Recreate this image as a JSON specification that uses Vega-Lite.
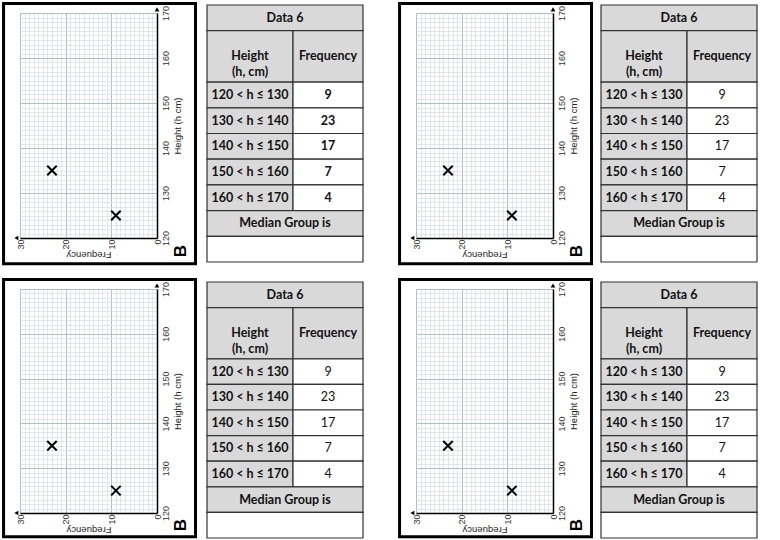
{
  "$schema": "https://vega.github.io/schema/vega-lite/v6.json",
  "padding": {"left": 2, "top": 2, "right": 0, "bottom": 0},
  "background": "white",
  "datasets": {
    "pts": [{"freq": 9, "height": 125}, {"freq": 23, "height": 135}],
    "tbl": [
      {"cell": "Data 6", "r0": 0, "r1": 1, "c0": 0, "c1": 2, "kind": "head"},
      {"cell": "Height\n(h, cm)", "r0": 1, "r1": 3, "c0": 0, "c1": 1, "kind": "head"},
      {"cell": "Frequency", "r0": 1, "r1": 3, "c0": 1, "c1": 2, "kind": "head"},
      {"cell": "120 < h ≤ 130", "r0": 3, "r1": 4, "c0": 0, "c1": 1, "kind": "head"},
      {"cell": "9", "r0": 3, "r1": 4, "c0": 1, "c1": 2, "kind": "body"},
      {"cell": "130 < h ≤ 140", "r0": 4, "r1": 5, "c0": 0, "c1": 1, "kind": "head"},
      {"cell": "23", "r0": 4, "r1": 5, "c0": 1, "c1": 2, "kind": "body"},
      {"cell": "140 < h ≤ 150", "r0": 5, "r1": 6, "c0": 0, "c1": 1, "kind": "head"},
      {"cell": "17", "r0": 5, "r1": 6, "c0": 1, "c1": 2, "kind": "body"},
      {"cell": "150 < h ≤ 160", "r0": 6, "r1": 7, "c0": 0, "c1": 1, "kind": "head"},
      {"cell": "7", "r0": 6, "r1": 7, "c0": 1, "c1": 2, "kind": "body"},
      {"cell": "160 < h ≤ 170", "r0": 7, "r1": 8, "c0": 0, "c1": 1, "kind": "head"},
      {"cell": "4", "r0": 7, "r1": 8, "c0": 1, "c1": 2, "kind": "body"},
      {"cell": "Median Group is", "r0": 8, "r1": 9, "c0": 0, "c1": 2, "kind": "head"},
      {"cell": "", "r0": 9, "r1": 10, "c0": 0, "c1": 2, "kind": "body"}
    ]
  },
  "config": {
    "view": {"stroke": null},
    "axis": {"labelFlush": false, "ticks": false, "labelFont": "Liberation Sans", "labelFontSize": 9, "labelColor": "#333", "titleFont": "Liberation Sans", "titleFontSize": 9.5, "titleFontWeight": "normal", "titleColor": "#222", "domainColor": "#000", "domainWidth": 1.5},
    "text": {"font": "Lato", "fontSize": 12.5, "color": "#111"}
  },
  "spacing": 12,
  "vconcat": [
    {"spacing": 34, "hconcat": [
      {"spacing": 9, "hconcat": [
        {"width": 137, "height": 225,
         "resolve": {"axis": {"x": "independent", "y": "independent"}},
         "layer": [
          {"data": {"name": "pts"}, "mark": {"type": "point", "opacity": 0},
           "encoding": {
            "x": {"field": "freq", "type": "quantitative", "scale": {"domain": [0, 30], "reverse": true, "nice": false, "zero": false}, "axis": {"orient": "bottom", "values": [0,1,2,3,4,5,6,7,8,9,10,11,12,13,14,15,16,17,18,19,20,21,22,23,24,25,26,27,28,29,30], "grid": true, "gridColor": "#d3dee1", "gridWidth": 0.7, "labels": false, "domain": false, "title": null}},
            "y": {"field": "height", "type": "quantitative", "scale": {"domain": [120, 170], "nice": false, "zero": false}, "axis": {"orient": "right", "values": [120,121,122,123,124,125,126,127,128,129,130,131,132,133,134,135,136,137,138,139,140,141,142,143,144,145,146,147,148,149,150,151,152,153,154,155,156,157,158,159,160,161,162,163,164,165,166,167,168,169,170], "grid": true, "gridColor": "#d3dee1", "gridWidth": 0.7, "labels": false, "domain": false, "title": null}}}},
          {"data": {"name": "pts"}, "mark": {"type": "point", "opacity": 0},
           "encoding": {
            "x": {"field": "freq", "type": "quantitative", "scale": {"domain": [0, 30], "reverse": true, "nice": false, "zero": false}, "axis": {"orient": "bottom", "values": [0, 10, 20, 30], "grid": true, "gridColor": "#a9bbc0", "gridWidth": 0.9, "labels": false, "domain": false, "title": null}},
            "y": {"field": "height", "type": "quantitative", "scale": {"domain": [120, 170], "nice": false, "zero": false}, "axis": {"orient": "right", "values": [120, 130, 140, 150, 160, 170], "grid": true, "gridColor": "#a9bbc0", "gridWidth": 0.9, "labels": false, "domain": false, "title": null}}}},
          {"data": {"values": [{}]}, "mark": {"type": "rect", "filled": false, "stroke": "#000", "strokeWidth": 3},
           "encoding": {
            "x": {"datum": 33.6, "type": "quantitative", "scale": {"domain": [0, 30], "reverse": true, "nice": false, "zero": false}, "axis": null},
            "x2": {"datum": -8.43},
            "y": {"datum": 172.1, "type": "quantitative", "scale": {"domain": [120, 170], "nice": false, "zero": false}, "axis": null},
            "y2": {"datum": 114.3}}},
          {"data": {"name": "pts"}, "mark": {"type": "point", "shape": "M-1,-1L1,1M-1,1L1,-1", "filled": false, "stroke": "#000", "strokeWidth": 2, "size": 90, "opacity": 1},
           "encoding": {
            "x": {"field": "freq", "type": "quantitative", "scale": {"domain": [0, 30], "reverse": true, "nice": false, "zero": false}, "axis": {"orient": "bottom", "values": [0, 10, 20, 30], "grid": false, "labelAngle": 270, "labelAlign": "right", "labelBaseline": "middle", "labelPadding": 1, "title": "Frequency", "titleAngle": 180, "titleBaseline": "bottom", "titlePadding": 0}},
            "y": {"field": "height", "type": "quantitative", "scale": {"domain": [120, 170], "nice": false, "zero": false}, "axis": {"orient": "right", "values": [120, 130, 140, 150, 160, 170], "grid": false, "labelAngle": 270, "labelAlign": "center", "labelBaseline": "top", "labelPadding": 4, "title": "Height (h cm)", "titleAngle": 270, "titleBaseline": "top", "titlePadding": 2}}}},
          {"data": {"values": [{}]}, "mark": {"type": "point", "shape": "triangle-up", "filled": true, "color": "#000", "size": 22, "opacity": 1},
           "encoding": {
            "x": {"datum": 0, "type": "quantitative", "scale": {"domain": [0, 30], "reverse": true, "nice": false, "zero": false}, "axis": null},
            "y": {"datum": 170.8, "type": "quantitative", "scale": {"domain": [120, 170], "nice": false, "zero": false}, "axis": null}}},
          {"data": {"values": [{}]}, "mark": {"type": "point", "shape": "triangle-left", "filled": true, "color": "#000", "size": 22, "opacity": 1},
           "encoding": {
            "x": {"datum": 30.8, "type": "quantitative", "scale": {"domain": [0, 30], "reverse": true, "nice": false, "zero": false}, "axis": null},
            "y": {"datum": 120, "type": "quantitative", "scale": {"domain": [120, 170], "nice": false, "zero": false}, "axis": null}}},
          {"data": {"values": [{}]}, "mark": {"type": "text", "text": "B", "angle": 270, "fontSize": 17, "fontWeight": "bold", "font": "Liberation Sans", "color": "#000", "align": "center", "baseline": "middle"},
           "encoding": {
            "x": {"datum": -5.3, "type": "quantitative", "scale": {"domain": [0, 30], "reverse": true, "nice": false, "zero": false}, "axis": null},
            "y": {"datum": 117.1, "type": "quantitative", "scale": {"domain": [120, 170], "nice": false, "zero": false}, "axis": null}}}
         ]},
        {"width": 156, "height": 249, "data": {"name": "tbl"},
         "encoding": {
          "x": {"field": "c0", "type": "quantitative", "scale": {"domain": [0, 1, 2], "range": [0, 86, 156]}, "axis": null},
          "y": {"field": "r0", "type": "quantitative", "scale": {"domain": [0.311, 10], "reverse": true, "nice": false, "zero": false}, "axis": null}},
         "layer": [
          {"mark": {"type": "rect", "stroke": "#333", "strokeWidth": 1.2, "clip": false},
           "encoding": {"x2": {"field": "c1"}, "y2": {"field": "r1"},
            "fill": {"field": "kind", "type": "nominal", "scale": {"domain": ["head", "body"], "range": ["#d9d9d9", "#ffffff"]}, "legend": null}}},
          {"transform": [{"filter": "datum.c1 - datum.c0 == 2"}], "mark": {"type": "text", "dx": 78, "dy": 12.85, "align": "center", "baseline": "middle", "fontWeight": "bold"}, "encoding": {"text": {"field": "cell"}}},
          {"transform": [{"filter": "datum.c0 == 0 && datum.c1 == 1 && datum.r1 - datum.r0 == 1"}], "mark": {"type": "text", "dx": 43, "dy": 12.85, "align": "center", "baseline": "middle", "fontWeight": "bold"}, "encoding": {"text": {"field": "cell"}}},
          {"transform": [{"filter": "datum.c0 == 0 && datum.r1 - datum.r0 == 2"}], "mark": {"type": "text", "dx": 43, "dy": 25.7, "align": "center", "baseline": "middle", "fontWeight": "bold", "lineBreak": "\n", "lineHeight": 16}, "encoding": {"text": {"field": "cell"}}},
          {"transform": [{"filter": "datum.c0 == 1 && datum.r1 - datum.r0 == 2"}], "mark": {"type": "text", "dx": 35, "dy": 25.7, "align": "center", "baseline": "middle", "fontWeight": "bold"}, "encoding": {"text": {"field": "cell"}}},
          {"transform": [{"filter": "datum.c0 == 1 && datum.r1 - datum.r0 == 1"}], "mark": {"type": "text", "dx": 35, "dy": 12.85, "align": "center", "baseline": "middle", "fontWeight": "bold"}, "encoding": {"text": {"field": "cell"}}}
         ]}
      ]},
      {"spacing": 7, "hconcat": [
        {"width": 137, "height": 225,
         "resolve": {"axis": {"x": "independent", "y": "independent"}},
         "layer": [
          {"data": {"name": "pts"}, "mark": {"type": "point", "opacity": 0},
           "encoding": {
            "x": {"field": "freq", "type": "quantitative", "scale": {"domain": [0, 30], "reverse": true, "nice": false, "zero": false}, "axis": {"orient": "bottom", "values": [0,1,2,3,4,5,6,7,8,9,10,11,12,13,14,15,16,17,18,19,20,21,22,23,24,25,26,27,28,29,30], "grid": true, "gridColor": "#d3dee1", "gridWidth": 0.7, "labels": false, "domain": false, "title": null}},
            "y": {"field": "height", "type": "quantitative", "scale": {"domain": [120, 170], "nice": false, "zero": false}, "axis": {"orient": "right", "values": [120,121,122,123,124,125,126,127,128,129,130,131,132,133,134,135,136,137,138,139,140,141,142,143,144,145,146,147,148,149,150,151,152,153,154,155,156,157,158,159,160,161,162,163,164,165,166,167,168,169,170], "grid": true, "gridColor": "#d3dee1", "gridWidth": 0.7, "labels": false, "domain": false, "title": null}}}},
          {"data": {"name": "pts"}, "mark": {"type": "point", "opacity": 0},
           "encoding": {
            "x": {"field": "freq", "type": "quantitative", "scale": {"domain": [0, 30], "reverse": true, "nice": false, "zero": false}, "axis": {"orient": "bottom", "values": [0, 10, 20, 30], "grid": true, "gridColor": "#a9bbc0", "gridWidth": 0.9, "labels": false, "domain": false, "title": null}},
            "y": {"field": "height", "type": "quantitative", "scale": {"domain": [120, 170], "nice": false, "zero": false}, "axis": {"orient": "right", "values": [120, 130, 140, 150, 160, 170], "grid": true, "gridColor": "#a9bbc0", "gridWidth": 0.9, "labels": false, "domain": false, "title": null}}}},
          {"data": {"values": [{}]}, "mark": {"type": "rect", "filled": false, "stroke": "#000", "strokeWidth": 3},
           "encoding": {
            "x": {"datum": 33.6, "type": "quantitative", "scale": {"domain": [0, 30], "reverse": true, "nice": false, "zero": false}, "axis": null},
            "x2": {"datum": -8.43},
            "y": {"datum": 172.1, "type": "quantitative", "scale": {"domain": [120, 170], "nice": false, "zero": false}, "axis": null},
            "y2": {"datum": 114.3}}},
          {"data": {"name": "pts"}, "mark": {"type": "point", "shape": "M-1,-1L1,1M-1,1L1,-1", "filled": false, "stroke": "#000", "strokeWidth": 2, "size": 90, "opacity": 1},
           "encoding": {
            "x": {"field": "freq", "type": "quantitative", "scale": {"domain": [0, 30], "reverse": true, "nice": false, "zero": false}, "axis": {"orient": "bottom", "values": [0, 10, 20, 30], "grid": false, "labelAngle": 270, "labelAlign": "right", "labelBaseline": "middle", "labelPadding": 1, "title": "Frequency", "titleAngle": 180, "titleBaseline": "bottom", "titlePadding": 0}},
            "y": {"field": "height", "type": "quantitative", "scale": {"domain": [120, 170], "nice": false, "zero": false}, "axis": {"orient": "right", "values": [120, 130, 140, 150, 160, 170], "grid": false, "labelAngle": 270, "labelAlign": "center", "labelBaseline": "top", "labelPadding": 4, "title": "Height (h cm)", "titleAngle": 270, "titleBaseline": "top", "titlePadding": 2}}}},
          {"data": {"values": [{}]}, "mark": {"type": "point", "shape": "triangle-up", "filled": true, "color": "#000", "size": 22, "opacity": 1},
           "encoding": {
            "x": {"datum": 0, "type": "quantitative", "scale": {"domain": [0, 30], "reverse": true, "nice": false, "zero": false}, "axis": null},
            "y": {"datum": 170.8, "type": "quantitative", "scale": {"domain": [120, 170], "nice": false, "zero": false}, "axis": null}}},
          {"data": {"values": [{}]}, "mark": {"type": "point", "shape": "triangle-left", "filled": true, "color": "#000", "size": 22, "opacity": 1},
           "encoding": {
            "x": {"datum": 30.8, "type": "quantitative", "scale": {"domain": [0, 30], "reverse": true, "nice": false, "zero": false}, "axis": null},
            "y": {"datum": 120, "type": "quantitative", "scale": {"domain": [120, 170], "nice": false, "zero": false}, "axis": null}}},
          {"data": {"values": [{}]}, "mark": {"type": "text", "text": "B", "angle": 270, "fontSize": 17, "fontWeight": "bold", "font": "Liberation Sans", "color": "#000", "align": "center", "baseline": "middle"},
           "encoding": {
            "x": {"datum": -5.3, "type": "quantitative", "scale": {"domain": [0, 30], "reverse": true, "nice": false, "zero": false}, "axis": null},
            "y": {"datum": 117.1, "type": "quantitative", "scale": {"domain": [120, 170], "nice": false, "zero": false}, "axis": null}}}
         ]},
        {"width": 156, "height": 249, "data": {"name": "tbl"},
         "encoding": {
          "x": {"field": "c0", "type": "quantitative", "scale": {"domain": [0, 1, 2], "range": [0, 86, 156]}, "axis": null},
          "y": {"field": "r0", "type": "quantitative", "scale": {"domain": [0.311, 10], "reverse": true, "nice": false, "zero": false}, "axis": null}},
         "layer": [
          {"mark": {"type": "rect", "stroke": "#333", "strokeWidth": 1.2, "clip": false},
           "encoding": {"x2": {"field": "c1"}, "y2": {"field": "r1"},
            "fill": {"field": "kind", "type": "nominal", "scale": {"domain": ["head", "body"], "range": ["#d9d9d9", "#ffffff"]}, "legend": null}}},
          {"transform": [{"filter": "datum.c1 - datum.c0 == 2"}], "mark": {"type": "text", "dx": 78, "dy": 12.85, "align": "center", "baseline": "middle", "fontWeight": "bold"}, "encoding": {"text": {"field": "cell"}}},
          {"transform": [{"filter": "datum.c0 == 0 && datum.c1 == 1 && datum.r1 - datum.r0 == 1"}], "mark": {"type": "text", "dx": 43, "dy": 12.85, "align": "center", "baseline": "middle", "fontWeight": "bold"}, "encoding": {"text": {"field": "cell"}}},
          {"transform": [{"filter": "datum.c0 == 0 && datum.r1 - datum.r0 == 2"}], "mark": {"type": "text", "dx": 43, "dy": 25.7, "align": "center", "baseline": "middle", "fontWeight": "bold", "lineBreak": "\n", "lineHeight": 16}, "encoding": {"text": {"field": "cell"}}},
          {"transform": [{"filter": "datum.c0 == 1 && datum.r1 - datum.r0 == 2"}], "mark": {"type": "text", "dx": 35, "dy": 25.7, "align": "center", "baseline": "middle", "fontWeight": "bold"}, "encoding": {"text": {"field": "cell"}}},
          {"transform": [{"filter": "datum.c0 == 1 && datum.r1 - datum.r0 == 1"}], "mark": {"type": "text", "dx": 35, "dy": 12.85, "align": "center", "baseline": "middle", "fontWeight": "normal"}, "encoding": {"text": {"field": "cell"}}}
         ]}
      ]}
    ]},
    {"spacing": 34, "hconcat": [
      {"spacing": 9, "hconcat": [
        {"width": 137, "height": 224,
         "resolve": {"axis": {"x": "independent", "y": "independent"}},
         "layer": [
          {"data": {"name": "pts"}, "mark": {"type": "point", "opacity": 0},
           "encoding": {
            "x": {"field": "freq", "type": "quantitative", "scale": {"domain": [0, 30], "reverse": true, "nice": false, "zero": false}, "axis": {"orient": "bottom", "values": [0,1,2,3,4,5,6,7,8,9,10,11,12,13,14,15,16,17,18,19,20,21,22,23,24,25,26,27,28,29,30], "grid": true, "gridColor": "#d3dee1", "gridWidth": 0.7, "labels": false, "domain": false, "title": null}},
            "y": {"field": "height", "type": "quantitative", "scale": {"domain": [120, 170], "nice": false, "zero": false}, "axis": {"orient": "right", "values": [120,121,122,123,124,125,126,127,128,129,130,131,132,133,134,135,136,137,138,139,140,141,142,143,144,145,146,147,148,149,150,151,152,153,154,155,156,157,158,159,160,161,162,163,164,165,166,167,168,169,170], "grid": true, "gridColor": "#d3dee1", "gridWidth": 0.7, "labels": false, "domain": false, "title": null}}}},
          {"data": {"name": "pts"}, "mark": {"type": "point", "opacity": 0},
           "encoding": {
            "x": {"field": "freq", "type": "quantitative", "scale": {"domain": [0, 30], "reverse": true, "nice": false, "zero": false}, "axis": {"orient": "bottom", "values": [0, 10, 20, 30], "grid": true, "gridColor": "#a9bbc0", "gridWidth": 0.9, "labels": false, "domain": false, "title": null}},
            "y": {"field": "height", "type": "quantitative", "scale": {"domain": [120, 170], "nice": false, "zero": false}, "axis": {"orient": "right", "values": [120, 130, 140, 150, 160, 170], "grid": true, "gridColor": "#a9bbc0", "gridWidth": 0.9, "labels": false, "domain": false, "title": null}}}},
          {"data": {"values": [{}]}, "mark": {"type": "rect", "filled": false, "stroke": "#000", "strokeWidth": 3},
           "encoding": {
            "x": {"datum": 33.6, "type": "quantitative", "scale": {"domain": [0, 30], "reverse": true, "nice": false, "zero": false}, "axis": null},
            "x2": {"datum": -8.43},
            "y": {"datum": 172.1, "type": "quantitative", "scale": {"domain": [120, 170], "nice": false, "zero": false}, "axis": null},
            "y2": {"datum": 114.7}}},
          {"data": {"name": "pts"}, "mark": {"type": "point", "shape": "M-1,-1L1,1M-1,1L1,-1", "filled": false, "stroke": "#000", "strokeWidth": 2, "size": 90, "opacity": 1},
           "encoding": {
            "x": {"field": "freq", "type": "quantitative", "scale": {"domain": [0, 30], "reverse": true, "nice": false, "zero": false}, "axis": {"orient": "bottom", "values": [0, 10, 20, 30], "grid": false, "labelAngle": 270, "labelAlign": "right", "labelBaseline": "middle", "labelPadding": 1, "title": "Frequency", "titleAngle": 180, "titleBaseline": "bottom", "titlePadding": 0}},
            "y": {"field": "height", "type": "quantitative", "scale": {"domain": [120, 170], "nice": false, "zero": false}, "axis": {"orient": "right", "values": [120, 130, 140, 150, 160, 170], "grid": false, "labelAngle": 270, "labelAlign": "center", "labelBaseline": "top", "labelPadding": 4, "title": "Height (h cm)", "titleAngle": 270, "titleBaseline": "top", "titlePadding": 2}}}},
          {"data": {"values": [{}]}, "mark": {"type": "point", "shape": "triangle-up", "filled": true, "color": "#000", "size": 22, "opacity": 1},
           "encoding": {
            "x": {"datum": 0, "type": "quantitative", "scale": {"domain": [0, 30], "reverse": true, "nice": false, "zero": false}, "axis": null},
            "y": {"datum": 170.8, "type": "quantitative", "scale": {"domain": [120, 170], "nice": false, "zero": false}, "axis": null}}},
          {"data": {"values": [{}]}, "mark": {"type": "point", "shape": "triangle-left", "filled": true, "color": "#000", "size": 22, "opacity": 1},
           "encoding": {
            "x": {"datum": 30.8, "type": "quantitative", "scale": {"domain": [0, 30], "reverse": true, "nice": false, "zero": false}, "axis": null},
            "y": {"datum": 120, "type": "quantitative", "scale": {"domain": [120, 170], "nice": false, "zero": false}, "axis": null}}},
          {"data": {"values": [{}]}, "mark": {"type": "text", "text": "B", "angle": 270, "fontSize": 17, "fontWeight": "bold", "font": "Liberation Sans", "color": "#000", "align": "center", "baseline": "middle"},
           "encoding": {
            "x": {"datum": -5.3, "type": "quantitative", "scale": {"domain": [0, 30], "reverse": true, "nice": false, "zero": false}, "axis": null},
            "y": {"datum": 117.3, "type": "quantitative", "scale": {"domain": [120, 170], "nice": false, "zero": false}, "axis": null}}}
         ]},
        {"width": 156, "height": 249, "data": {"name": "tbl"},
         "encoding": {
          "x": {"field": "c0", "type": "quantitative", "scale": {"domain": [0, 1, 2], "range": [0, 86, 156]}, "axis": null},
          "y": {"field": "r0", "type": "quantitative", "scale": {"domain": [0.273, 10], "reverse": true, "nice": false, "zero": false}, "axis": null}},
         "layer": [
          {"mark": {"type": "rect", "stroke": "#333", "strokeWidth": 1.2, "clip": false},
           "encoding": {"x2": {"field": "c1"}, "y2": {"field": "r1"},
            "fill": {"field": "kind", "type": "nominal", "scale": {"domain": ["head", "body"], "range": ["#d9d9d9", "#ffffff"]}, "legend": null}}},
          {"transform": [{"filter": "datum.c1 - datum.c0 == 2"}], "mark": {"type": "text", "dx": 78, "dy": 12.8, "align": "center", "baseline": "middle", "fontWeight": "bold"}, "encoding": {"text": {"field": "cell"}}},
          {"transform": [{"filter": "datum.c0 == 0 && datum.c1 == 1 && datum.r1 - datum.r0 == 1"}], "mark": {"type": "text", "dx": 43, "dy": 12.8, "align": "center", "baseline": "middle", "fontWeight": "bold"}, "encoding": {"text": {"field": "cell"}}},
          {"transform": [{"filter": "datum.c0 == 0 && datum.r1 - datum.r0 == 2"}], "mark": {"type": "text", "dx": 43, "dy": 25.6, "align": "center", "baseline": "middle", "fontWeight": "bold", "lineBreak": "\n", "lineHeight": 16}, "encoding": {"text": {"field": "cell"}}},
          {"transform": [{"filter": "datum.c0 == 1 && datum.r1 - datum.r0 == 2"}], "mark": {"type": "text", "dx": 35, "dy": 25.6, "align": "center", "baseline": "middle", "fontWeight": "bold"}, "encoding": {"text": {"field": "cell"}}},
          {"transform": [{"filter": "datum.c0 == 1 && datum.r1 - datum.r0 == 1"}], "mark": {"type": "text", "dx": 35, "dy": 12.8, "align": "center", "baseline": "middle", "fontWeight": "normal"}, "encoding": {"text": {"field": "cell"}}}
         ]}
      ]},
      {"spacing": 7, "hconcat": [
        {"width": 137, "height": 224,
         "resolve": {"axis": {"x": "independent", "y": "independent"}},
         "layer": [
          {"data": {"name": "pts"}, "mark": {"type": "point", "opacity": 0},
           "encoding": {
            "x": {"field": "freq", "type": "quantitative", "scale": {"domain": [0, 30], "reverse": true, "nice": false, "zero": false}, "axis": {"orient": "bottom", "values": [0,1,2,3,4,5,6,7,8,9,10,11,12,13,14,15,16,17,18,19,20,21,22,23,24,25,26,27,28,29,30], "grid": true, "gridColor": "#d3dee1", "gridWidth": 0.7, "labels": false, "domain": false, "title": null}},
            "y": {"field": "height", "type": "quantitative", "scale": {"domain": [120, 170], "nice": false, "zero": false}, "axis": {"orient": "right", "values": [120,121,122,123,124,125,126,127,128,129,130,131,132,133,134,135,136,137,138,139,140,141,142,143,144,145,146,147,148,149,150,151,152,153,154,155,156,157,158,159,160,161,162,163,164,165,166,167,168,169,170], "grid": true, "gridColor": "#d3dee1", "gridWidth": 0.7, "labels": false, "domain": false, "title": null}}}},
          {"data": {"name": "pts"}, "mark": {"type": "point", "opacity": 0},
           "encoding": {
            "x": {"field": "freq", "type": "quantitative", "scale": {"domain": [0, 30], "reverse": true, "nice": false, "zero": false}, "axis": {"orient": "bottom", "values": [0, 10, 20, 30], "grid": true, "gridColor": "#a9bbc0", "gridWidth": 0.9, "labels": false, "domain": false, "title": null}},
            "y": {"field": "height", "type": "quantitative", "scale": {"domain": [120, 170], "nice": false, "zero": false}, "axis": {"orient": "right", "values": [120, 130, 140, 150, 160, 170], "grid": true, "gridColor": "#a9bbc0", "gridWidth": 0.9, "labels": false, "domain": false, "title": null}}}},
          {"data": {"values": [{}]}, "mark": {"type": "rect", "filled": false, "stroke": "#000", "strokeWidth": 3},
           "encoding": {
            "x": {"datum": 33.6, "type": "quantitative", "scale": {"domain": [0, 30], "reverse": true, "nice": false, "zero": false}, "axis": null},
            "x2": {"datum": -8.43},
            "y": {"datum": 172.1, "type": "quantitative", "scale": {"domain": [120, 170], "nice": false, "zero": false}, "axis": null},
            "y2": {"datum": 114.7}}},
          {"data": {"name": "pts"}, "mark": {"type": "point", "shape": "M-1,-1L1,1M-1,1L1,-1", "filled": false, "stroke": "#000", "strokeWidth": 2, "size": 90, "opacity": 1},
           "encoding": {
            "x": {"field": "freq", "type": "quantitative", "scale": {"domain": [0, 30], "reverse": true, "nice": false, "zero": false}, "axis": {"orient": "bottom", "values": [0, 10, 20, 30], "grid": false, "labelAngle": 270, "labelAlign": "right", "labelBaseline": "middle", "labelPadding": 1, "title": "Frequency", "titleAngle": 180, "titleBaseline": "bottom", "titlePadding": 0}},
            "y": {"field": "height", "type": "quantitative", "scale": {"domain": [120, 170], "nice": false, "zero": false}, "axis": {"orient": "right", "values": [120, 130, 140, 150, 160, 170], "grid": false, "labelAngle": 270, "labelAlign": "center", "labelBaseline": "top", "labelPadding": 4, "title": "Height (h cm)", "titleAngle": 270, "titleBaseline": "top", "titlePadding": 2}}}},
          {"data": {"values": [{}]}, "mark": {"type": "point", "shape": "triangle-up", "filled": true, "color": "#000", "size": 22, "opacity": 1},
           "encoding": {
            "x": {"datum": 0, "type": "quantitative", "scale": {"domain": [0, 30], "reverse": true, "nice": false, "zero": false}, "axis": null},
            "y": {"datum": 170.8, "type": "quantitative", "scale": {"domain": [120, 170], "nice": false, "zero": false}, "axis": null}}},
          {"data": {"values": [{}]}, "mark": {"type": "point", "shape": "triangle-left", "filled": true, "color": "#000", "size": 22, "opacity": 1},
           "encoding": {
            "x": {"datum": 30.8, "type": "quantitative", "scale": {"domain": [0, 30], "reverse": true, "nice": false, "zero": false}, "axis": null},
            "y": {"datum": 120, "type": "quantitative", "scale": {"domain": [120, 170], "nice": false, "zero": false}, "axis": null}}},
          {"data": {"values": [{}]}, "mark": {"type": "text", "text": "B", "angle": 270, "fontSize": 17, "fontWeight": "bold", "font": "Liberation Sans", "color": "#000", "align": "center", "baseline": "middle"},
           "encoding": {
            "x": {"datum": -5.3, "type": "quantitative", "scale": {"domain": [0, 30], "reverse": true, "nice": false, "zero": false}, "axis": null},
            "y": {"datum": 117.3, "type": "quantitative", "scale": {"domain": [120, 170], "nice": false, "zero": false}, "axis": null}}}
         ]},
        {"width": 156, "height": 249, "data": {"name": "tbl"},
         "encoding": {
          "x": {"field": "c0", "type": "quantitative", "scale": {"domain": [0, 1, 2], "range": [0, 86, 156]}, "axis": null},
          "y": {"field": "r0", "type": "quantitative", "scale": {"domain": [0.273, 10], "reverse": true, "nice": false, "zero": false}, "axis": null}},
         "layer": [
          {"mark": {"type": "rect", "stroke": "#333", "strokeWidth": 1.2, "clip": false},
           "encoding": {"x2": {"field": "c1"}, "y2": {"field": "r1"},
            "fill": {"field": "kind", "type": "nominal", "scale": {"domain": ["head", "body"], "range": ["#d9d9d9", "#ffffff"]}, "legend": null}}},
          {"transform": [{"filter": "datum.c1 - datum.c0 == 2"}], "mark": {"type": "text", "dx": 78, "dy": 12.8, "align": "center", "baseline": "middle", "fontWeight": "bold"}, "encoding": {"text": {"field": "cell"}}},
          {"transform": [{"filter": "datum.c0 == 0 && datum.c1 == 1 && datum.r1 - datum.r0 == 1"}], "mark": {"type": "text", "dx": 43, "dy": 12.8, "align": "center", "baseline": "middle", "fontWeight": "bold"}, "encoding": {"text": {"field": "cell"}}},
          {"transform": [{"filter": "datum.c0 == 0 && datum.r1 - datum.r0 == 2"}], "mark": {"type": "text", "dx": 43, "dy": 25.6, "align": "center", "baseline": "middle", "fontWeight": "bold", "lineBreak": "\n", "lineHeight": 16}, "encoding": {"text": {"field": "cell"}}},
          {"transform": [{"filter": "datum.c0 == 1 && datum.r1 - datum.r0 == 2"}], "mark": {"type": "text", "dx": 35, "dy": 25.6, "align": "center", "baseline": "middle", "fontWeight": "bold"}, "encoding": {"text": {"field": "cell"}}},
          {"transform": [{"filter": "datum.c0 == 1 && datum.r1 - datum.r0 == 1"}], "mark": {"type": "text", "dx": 35, "dy": 12.8, "align": "center", "baseline": "middle", "fontWeight": "normal"}, "encoding": {"text": {"field": "cell"}}}
         ]}
      ]}
    ]}
  ]
}
